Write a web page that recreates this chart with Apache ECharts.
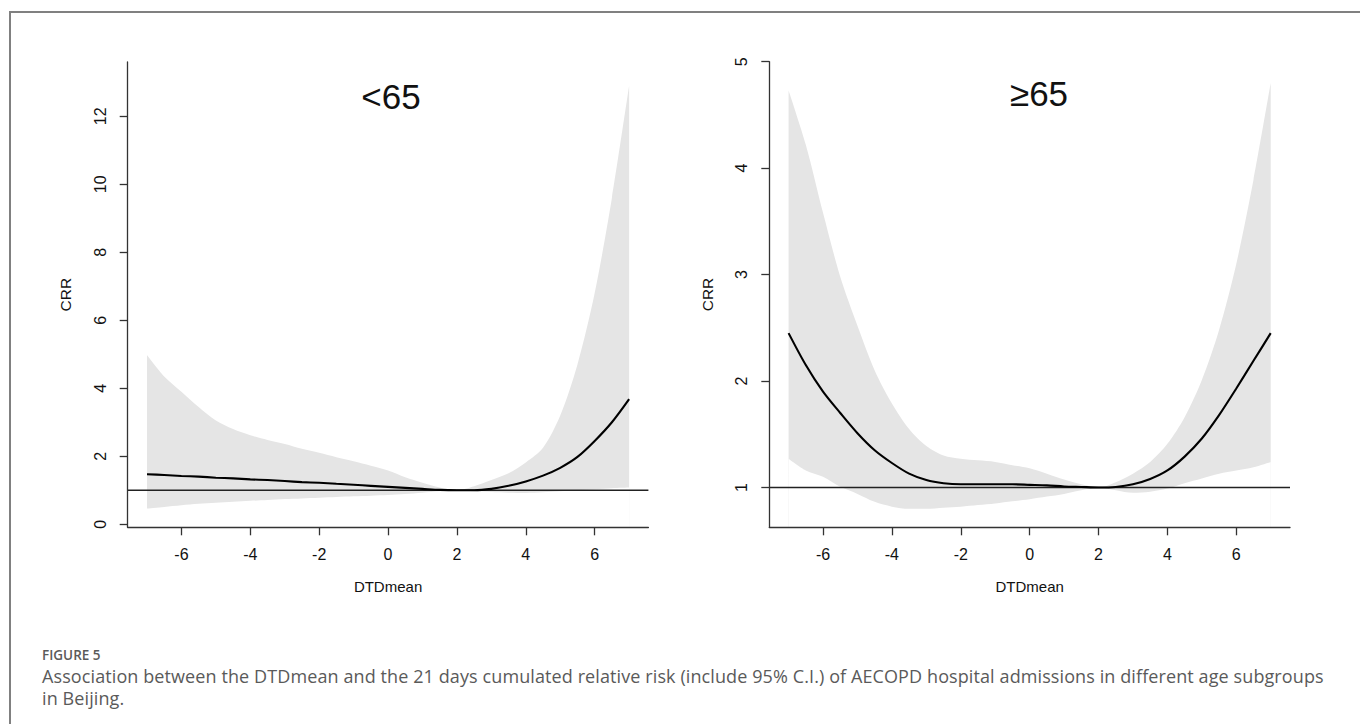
<!DOCTYPE html>
<html>
<head>
<meta charset="utf-8">
<script src="https://cdn.jsdelivr.net/npm/echarts@6/dist/echarts.min.js"></script>
<style>
  html, body { margin: 0; padding: 0; background: #fff; }
  #wrap { position: relative; width: 1360px; height: 724px; overflow: hidden; }
  #chart { position: absolute; left: 0; top: 0; width: 1360px; height: 724px; }
  #frame { position: absolute; left: 9px; top: 11px; width: 1400px; height: 800px;
           border-left: 2px solid #808080; border-top: 2px solid #808080; pointer-events: none; }
  .cap { position: absolute; left: 42px; font-family: "Open Sans", "Noto Sans", sans-serif; color: #5a5a5a; white-space: nowrap; }
  #fig { top: 647px; font-size: 13.5px; font-weight: 600; line-height: 16px; }
  #l1 { top: 666px; font-size: 18px; line-height: 20px; letter-spacing: 0.1px; }
  #l2 { top: 688px; font-size: 18px; line-height: 20px; letter-spacing: 0.1px; }
</style>
</head>
<body>
<div id="wrap">
  <div id="chart"></div>
  <div id="frame"></div>
  <div class="cap" id="fig">FIGURE 5</div>
  <div class="cap" id="l1">Association between the DTDmean and the 21 days cumulated relative risk (include 95% C.I.) of AECOPD hospital admissions in different age subgroups</div>
  <div class="cap" id="l2">in Beijing.</div>
</div>
<script>
// ---- data ----
const xValues = [-7, -6.5, -6, -5.5, -5, -4.5, -4, -3.5, -3, -2.5, -2, -1.5, -1, -0.5, 0, 0.5, 1, 1.5, 2, 2.5, 3, 3.5, 4, 4.5, 5, 5.5, 6, 6.5, 7];

// panel "<65"
const under65Crr   = [1.47, 1.45, 1.42, 1.40, 1.37, 1.35, 1.32, 1.30, 1.27, 1.24, 1.22, 1.19, 1.16, 1.13, 1.10, 1.07, 1.04, 1.01, 1.00, 1.00, 1.04, 1.13, 1.26, 1.43, 1.66, 1.98, 2.45, 3.00, 3.68];
const under65Upper = [4.98, 4.35, 3.90, 3.45, 3.05, 2.80, 2.62, 2.48, 2.36, 2.22, 2.10, 1.97, 1.85, 1.72, 1.58, 1.38, 1.22, 1.08, 1.00, 1.12, 1.30, 1.50, 1.82, 2.25, 3.20, 4.70, 6.80, 9.60, 12.90];
const under65Lower = [0.46, 0.51, 0.56, 0.60, 0.63, 0.66, 0.69, 0.71, 0.74, 0.76, 0.78, 0.80, 0.82, 0.84, 0.86, 0.89, 0.93, 0.97, 1.00, 0.97, 0.95, 0.93, 0.92, 0.94, 0.97, 1.00, 1.03, 1.06, 1.08];

// panel "≥65"
const over65Crr   = [2.45, 2.15, 1.90, 1.70, 1.51, 1.35, 1.23, 1.13, 1.07, 1.04, 1.03, 1.03, 1.03, 1.03, 1.025, 1.02, 1.01, 1.005, 1.00, 1.005, 1.03, 1.08, 1.16, 1.29, 1.46, 1.68, 1.93, 2.19, 2.45];
const over65Upper = [4.73, 4.22, 3.58, 2.98, 2.52, 2.10, 1.79, 1.55, 1.39, 1.30, 1.27, 1.255, 1.24, 1.21, 1.18, 1.13, 1.075, 1.03, 1.00, 1.05, 1.13, 1.24, 1.41, 1.66, 2.01, 2.48, 3.10, 3.89, 4.80];
const over65Lower = [1.27, 1.16, 1.10, 1.006, 0.94, 0.865, 0.82, 0.80, 0.80, 0.81, 0.82, 0.835, 0.85, 0.87, 0.89, 0.915, 0.94, 0.975, 1.00, 0.975, 0.95, 0.96, 0.99, 1.04, 1.085, 1.13, 1.16, 1.19, 1.24];

const xTicks = [-6, -4, -2, 0, 2, 4, 6];
const yTicksUnder65 = [0, 2, 4, 6, 8, 10, 12];
const yTicksOver65 = [1, 2, 3, 4, 5];
const refValue = 1;
const panelTitles = ['<65', '\u226565'];
const xName = 'DTDmean';
const yName = 'CRR';

// ---- chart ----
const FONT = "'Liberation Sans', Arial, sans-serif";
const axisColor = '#333';
const X_MIN = -7.56, X_MAX = 7.56;
const TICK_FS = 16;
const tickRich = { t: { fontFamily: FONT, fontSize: TICK_FS, color: '#111', lineHeight: 17 } };

function xAxisCfg(gi) {
  return {
    type: 'value', gridIndex: gi, min: X_MIN, max: X_MAX, z: 10,
    name: xName, nameLocation: 'middle', nameGap: 52,
    nameTextStyle: { fontFamily: FONT, fontSize: 15, color: '#111' },
    axisLine: { show: true, onZero: false, lineStyle: { color: axisColor, width: 1.3 } },
    axisTick: { show: true, inside: false, length: 8, customValues: xTicks, lineStyle: { color: axisColor, width: 1.3 } },
    axisLabel: { show: true, margin: 19, customValues: xTicks,
      fontFamily: FONT, fontSize: TICK_FS, color: '#111',
      formatter: function (v) { return '{t|' + v + '}'; }, rich: tickRich },
    splitLine: { show: false }
  };
}
function yAxisCfg(gi, min, max, ticks) {
  return {
    type: 'value', gridIndex: gi, min: min, max: max, z: 10,
    name: yName, nameLocation: 'middle', nameGap: 54, nameRotate: 90,
    nameTextStyle: { fontFamily: FONT, fontSize: 15.5, color: '#111' },
    axisLine: { show: true, onZero: false, lineStyle: { color: axisColor, width: 1.3 } },
    axisTick: { show: true, inside: false, length: 8, customValues: ticks, lineStyle: { color: axisColor, width: 1.3 } },
    axisLabel: { show: true, margin: 19, rotate: 90, customValues: ticks,
      fontFamily: FONT, fontSize: TICK_FS, color: '#111',
      formatter: function (v) { return '{t|' + v + '}'; }, rich: tickRich },
    splitLine: { show: false }
  };
}
// band: upper boundary filled grey down to the axis, lower boundary filled white down to the axis
function bandEdge(gi, vals, fill, z) {
  return {
    type: 'line', xAxisIndex: gi, yAxisIndex: gi, silent: true, z: z, symbol: 'none', smooth: 0.3,
    data: xValues.map((x, i) => [x, vals[i]]),
    lineStyle: { width: 0, opacity: 0 },
    areaStyle: { color: fill, opacity: 1, origin: 'start' }
  };
}
function refSeries(gi) {
  return {
    type: 'line', xAxisIndex: gi, yAxisIndex: gi, silent: true, z: 4, symbol: 'none',
    data: [[X_MIN, refValue], [X_MAX, refValue]],
    lineStyle: { color: '#222', width: 1.3 }
  };
}
function curveSeries(gi, vals) {
  return {
    type: 'line', xAxisIndex: gi, yAxisIndex: gi, silent: true, z: 5, symbol: 'none', smooth: 0.3,
    data: xValues.map((x, i) => [x, vals[i]]),
    lineStyle: { color: '#000', width: 2.1 }
  };
}

const chart = echarts.init(document.getElementById('chart'), null, { renderer: 'svg' });
chart.setOption({
  animation: false,
  backgroundColor: 'transparent',
  textStyle: { fontFamily: FONT, fontSize: 15, color: '#111' },
  title: [
    { text: panelTitles[0], left: 386, top: 74, textAlign: 'center',
      textStyle: { fontFamily: FONT, fontSize: 35, fontWeight: 'normal', color: '#111' } },
    { text: panelTitles[1], left: 1034, top: 71, textAlign: 'center',
      textStyle: { fontFamily: FONT, fontSize: 35, fontWeight: 'normal', color: '#111' } }
  ],
  grid: [
    { left: 127.7, top: 62, width: 520.7, height: 465.3 },
    { left: 769.3, top: 61.7, width: 520.7, height: 465.6 }
  ],
  xAxis: [xAxisCfg(0), xAxisCfg(1)],
  yAxis: [yAxisCfg(0, -0.09, 13.6, yTicksUnder65), yAxisCfg(1, 0.626, 5.0, yTicksOver65)],
  series: [
    bandEdge(0, under65Upper, '#e5e5e5', 1),
    bandEdge(0, under65Lower, '#ffffff', 2),
    refSeries(0),
    curveSeries(0, under65Crr),
    bandEdge(1, over65Upper, '#e5e5e5', 1),
    bandEdge(1, over65Lower, '#ffffff', 2),
    refSeries(1),
    curveSeries(1, over65Crr)
  ]
});
</script>
</body>
</html>
